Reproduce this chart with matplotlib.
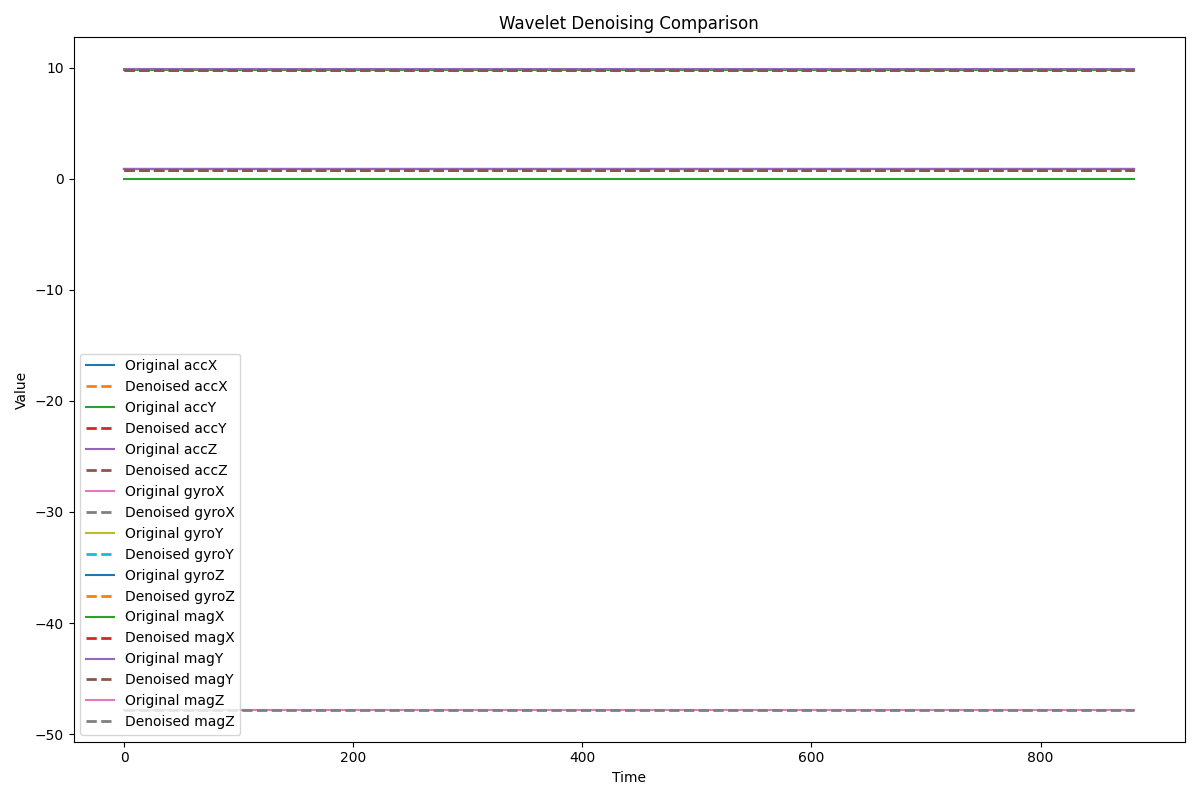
import numpy as np
import matplotlib
matplotlib.use("Agg")
import matplotlib.pyplot as plt

# sensor channels and the (flat) levels
channels = ['accX', 'accY', 'accZ', 'gyroX', 'gyroY', 'gyroZ', 'magX', 'magY', 'magZ']
original_levels = [0.83, 9.74, 9.84, 0.83, 0.83, 0.83, 0.0, 0.83, -47.8]
denoised_levels = [0.80, 9.74, 9.80, 0.80, 0.80, 0.80, 0.80, 0.80, -47.8]
n_samples = 883

time = np.arange(n_samples)

fig, ax = plt.subplots(figsize=(12, 8), dpi=100)
for name, orig, den in zip(channels, original_levels, denoised_levels):
    ax.plot(time, np.full(n_samples, orig), label=f'Original {name}')
    ax.plot(time, np.full(n_samples, den), linestyle='--', linewidth=2,
            label=f'Denoised {name}')

ax.set_title('Wavelet Denoising Comparison')
ax.set_xlabel('Time')
ax.set_ylabel('Value')
ax.legend(loc='lower left')
fig.tight_layout()
fig.savefig('out.png')
